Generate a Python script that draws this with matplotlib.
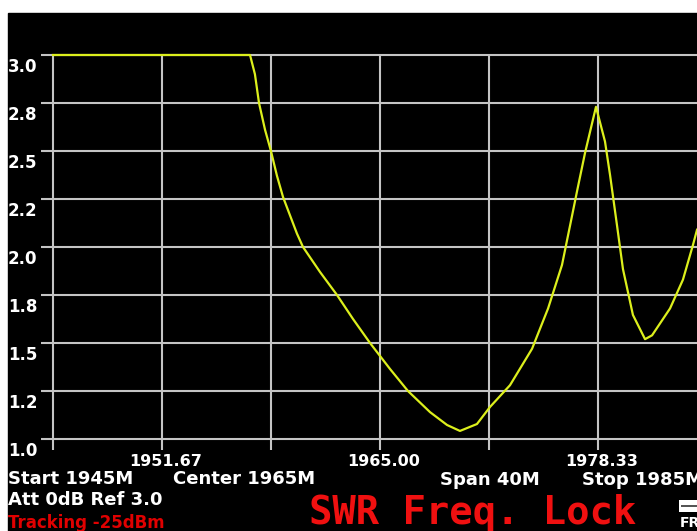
import numpy as np
import matplotlib.pyplot as plt
from matplotlib.patches import Rectangle

# SWR trace
freq_mhz = [1945.0, 1957.05, 1957.35, 1957.6, 1957.97, 1958.33, 1958.7, 1959.07,
            1959.92, 1960.29, 1961.33, 1962.37, 1963.35, 1964.39, 1965.61, 1966.71,
            1968.06, 1969.1, 1969.89, 1970.93, 1971.73, 1972.95, 1974.3, 1975.28,
            1976.13, 1976.62, 1977.05, 1977.54, 1978.21, 1978.76, 1979.07, 1979.5,
            1979.86, 1980.47, 1981.21, 1981.64, 1982.74, 1983.53, 1984.14, 1984.39]
swr = [3.0, 3.0, 2.9, 2.75, 2.61, 2.5, 2.37, 2.26,
       2.07, 2.0, 1.87, 1.75, 1.625, 1.5, 1.365, 1.25,
       1.14, 1.073, 1.042, 1.078, 1.167, 1.28, 1.47, 1.68,
       1.906, 2.11, 2.29, 2.49, 2.73, 2.55, 2.375, 2.11,
       1.885, 1.646, 1.52, 1.54, 1.68, 1.83, 2.01, 2.09]

swr_grid = [1.0, 1.25, 1.5, 1.75, 2.0, 2.25, 2.5, 2.75, 3.0]
swr_labels = ["1.0", "1.2", "1.5", "1.8", "2.0", "2.2", "2.5", "2.8", "3.0"]
freq_grid = [1945.0, 1951.67, 1958.33, 1965.0, 1971.67, 1978.33, 1985.0]
freq_ticks = [1951.67, 1965.0, 1978.33]
freq_labels = ["1951.67", "1965.00", "1978.33"]

W, H = 697, 531
fig = plt.figure(figsize=(W / 100, H / 100), dpi=100, facecolor="white")
fig.patches.append(Rectangle((8 / W, 0), 1, 1 - 13 / H, transform=fig.transFigure,
                             color="black", zorder=-5))

ax = fig.add_axes([53 / W, 92 / H, 654 / W, 384 / H])
ax.set_zorder(3)
ax.set_facecolor("none")
ax.axis("off")
ax.set_xlim(1945, 1985)
ax.set_ylim(1, 3)

px_x = 654 / 40.0   # pixels per MHz
px_y = 384 / 2.0    # pixels per SWR unit
grid_c = "#c4c4c4"

ax.hlines(swr_grid, 1945 - 12 / px_x, 1985, color=grid_c, lw=1.5, clip_on=False)
ax.vlines(freq_grid, 1 - 11 / px_y, 3, color=grid_c, lw=1.5, clip_on=False)
ax.plot(freq_mhz, swr, color="#dcef1c", lw=1.6, clip_on=False, zorder=5)

for v, lab in zip(swr_grid, swr_labels):
    ax.text(1945 - 45 / px_x, v - 12 / px_y, lab, color="white", fontsize=12,
            fontweight="bold", ha="left", va="center", clip_on=False)
for f, lab in zip(freq_ticks, freq_labels):
    ax.text(f + 4 / px_x, 1 - 22 / px_y, lab, color="white", fontsize=11.5,
            fontweight="bold", ha="center", va="center", clip_on=False)


def ftext(x, y, s, **kw):
    fig.text(x / W, 1 - y / H, s, va="center", ha="left", zorder=4, **kw)


white = dict(color="white", fontsize=13, fontweight="bold")
ftext(8, 479, "Start 1945M", **white)
ftext(173, 479, "Center 1965M", **white)
ftext(440, 480, "Span 40M", **white)
ftext(582, 480, "Stop 1985M", **white)
ftext(8, 500, "Att 0dB Ref 3.0", **white)
ftext(8, 523, "Tracking -25dBm", color="#e00000", fontsize=12, fontweight="bold")
ftext(309, 513, "SWR Freq. Lock", color="#f01010", fontsize=28,
      family="DejaVu Sans Mono", fontweight="bold")
ftext(680, 523, "FREQ", color="white", fontsize=10, fontweight="bold")
fig.patches.append(Rectangle((679 / W, 1 - 512 / H), 20 / W, 12 / H,
                             transform=fig.transFigure, facecolor="white",
                             edgecolor="none", zorder=1))
fig.patches.append(Rectangle((681 / W, 1 - 507 / H), 18 / W, 2 / H,
                             transform=fig.transFigure, facecolor="#555555",
                             edgecolor="none", zorder=2))

fig.savefig("out.png", dpi=100, facecolor="white")
